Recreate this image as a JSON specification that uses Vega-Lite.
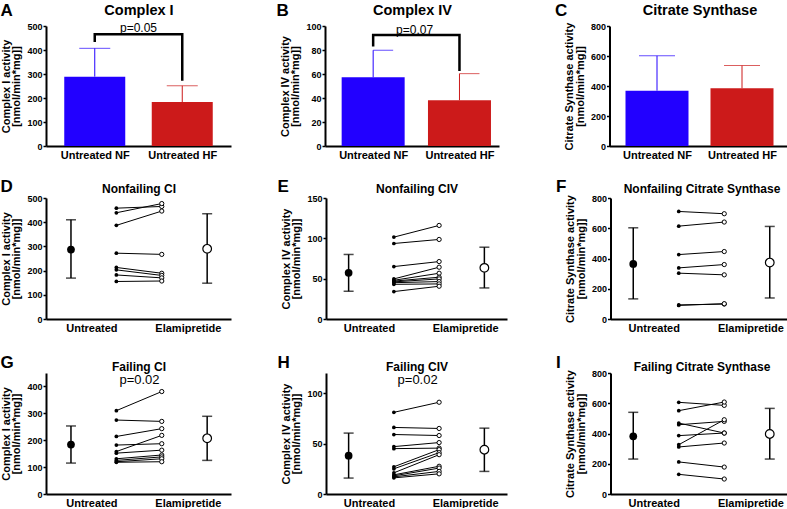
{
"$schema":"https://vega.github.io/schema/vega-lite/v6.json",
"padding":{"left":0,"top":2,"right":0,"bottom":0},
"background":"white",
"config":{
 "view":{"stroke":null},
 "font":"Liberation Sans",
 "title":{"font":"Liberation Sans","color":"black"},
 "axis":{"grid":false,"domainColor":"black","domainWidth":2,"tickColor":"black","tickWidth":1.5,"tickSize":3,"labelColor":"black","labelFontWeight":"bold","labelFontSize":9,"labelFont":"Liberation Sans","labelOverlap":false,"titleFont":"Liberation Sans","titleColor":"black","titleFontWeight":"bold","titleFontSize":11,"titleLineHeight":10.5,"titlePadding":5,"labelPadding":1},
 "axisX":{"ticks":false,"labelFontSize":11,"labelPadding":3,"labelFlush":false,"labelOverlap":false}
},
"datasets":{
 "bars":[
  {"p":"A","g":"NF","x":0.5,"v":289,"e":407},{"p":"A","g":"HF","x":1.5,"v":183,"e":251},
  {"p":"B","g":"NF","x":0.5,"v":57.2,"e":79.8},{"p":"B","g":"HF","x":1.5,"v":38.1,"e":60.3},
  {"p":"C","g":"NF","x":0.5,"v":369,"e":601},{"p":"C","g":"HF","x":1.5,"v":385,"e":536}
 ],
 "brk":[
  {"p":"A","k":1,"x":0.5,"v":433},{"p":"A","k":2,"x":0.5,"v":466},{"p":"A","k":3,"x":1.5,"v":466},{"p":"A","k":4,"x":1.5,"v":272},
  {"p":"B","k":1,"x":0.5,"v":83},{"p":"B","k":2,"x":0.5,"v":92.5},{"p":"B","k":3,"x":1.5,"v":92.5},{"p":"B","k":4,"x":1.5,"v":62.5}
 ],
 "pt":[
  {"p":"A","x":1,"v":493,"t":"p=0.05"},{"p":"B","x":0.98,"v":97,"t":"p=0.07"},
  {"p":"G","x":4.02,"v":423,"t":"p=0.02"},{"p":"H","x":4.05,"v":113,"t":"p=0.02"}
 ],
 "means":[
  {"p":"D","x":1,"m":287,"lo":169,"hi":410},{"p":"D","x":7,"m":290,"lo":148,"hi":435},
  {"p":"E","x":1,"m":57.2,"lo":34.4,"hi":80},{"p":"E","x":7,"m":63.4,"lo":38.5,"hi":89},
  {"p":"F","x":1,"m":364,"lo":133,"hi":603},{"p":"F","x":7,"m":373,"lo":139,"hi":612},
  {"p":"G","x":1,"m":184,"lo":115,"hi":253},{"p":"G","x":7,"m":207,"lo":125,"hi":289},
  {"p":"H","x":1,"m":38,"lo":15.8,"hi":60.4},{"p":"H","x":7,"m":43.9,"lo":22.4,"hi":65.3},
  {"p":"I","x":1,"m":381,"lo":231,"hi":540},{"p":"I","x":7,"m":397,"lo":231,"hi":566}
 ],
 "pairs":[
  {"p":"D","id":1,"x":3,"v":458},{"p":"D","id":1,"x":5,"v":465},
  {"p":"D","id":2,"x":3,"v":439},{"p":"D","id":2,"x":5,"v":477},
  {"p":"D","id":3,"x":3,"v":387},{"p":"D","id":3,"x":5,"v":446},
  {"p":"D","id":4,"x":3,"v":272},{"p":"D","id":4,"x":5,"v":267},
  {"p":"D","id":5,"x":3,"v":213},{"p":"D","id":5,"x":5,"v":189},
  {"p":"D","id":6,"x":3,"v":203},{"p":"D","id":6,"x":5,"v":180},
  {"p":"D","id":7,"x":3,"v":182},{"p":"D","id":7,"x":5,"v":170},
  {"p":"D","id":8,"x":3,"v":155},{"p":"D","id":8,"x":5,"v":157},
  {"p":"E","id":1,"x":3,"v":101.5},{"p":"E","id":1,"x":5,"v":116},
  {"p":"E","id":2,"x":3,"v":93.6},{"p":"E","id":2,"x":5,"v":98.6},
  {"p":"E","id":3,"x":3,"v":65},{"p":"E","id":3,"x":5,"v":71.2},
  {"p":"E","id":4,"x":3,"v":49.7},{"p":"E","id":4,"x":5,"v":64.2},
  {"p":"E","id":5,"x":3,"v":48},{"p":"E","id":5,"x":5,"v":56.7},
  {"p":"E","id":6,"x":3,"v":47},{"p":"E","id":6,"x":5,"v":51.8},
  {"p":"E","id":7,"x":3,"v":46},{"p":"E","id":7,"x":5,"v":49.7},
  {"p":"E","id":8,"x":3,"v":45},{"p":"E","id":8,"x":5,"v":46.4},
  {"p":"E","id":9,"x":3,"v":43},{"p":"E","id":9,"x":5,"v":43.5},
  {"p":"E","id":10,"x":3,"v":34},{"p":"E","id":10,"x":5,"v":40.6},
  {"p":"F","id":1,"x":3,"v":711},{"p":"F","id":1,"x":5,"v":696},
  {"p":"F","id":2,"x":3,"v":614},{"p":"F","id":2,"x":5,"v":641},
  {"p":"F","id":3,"x":3,"v":426},{"p":"F","id":3,"x":5,"v":446},
  {"p":"F","id":4,"x":3,"v":338},{"p":"F","id":4,"x":5,"v":360},
  {"p":"F","id":5,"x":3,"v":303},{"p":"F","id":5,"x":5,"v":292},
  {"p":"F","id":6,"x":3,"v":93},{"p":"F","id":6,"x":5,"v":99},
  {"p":"F","id":7,"x":3,"v":90},{"p":"F","id":7,"x":5,"v":101},
  {"p":"G","id":1,"x":3,"v":310},{"p":"G","id":1,"x":5,"v":381},
  {"p":"G","id":2,"x":3,"v":275},{"p":"G","id":2,"x":5,"v":270},
  {"p":"G","id":3,"x":3,"v":214},{"p":"G","id":3,"x":5,"v":243},
  {"p":"G","id":4,"x":3,"v":182},{"p":"G","id":4,"x":5,"v":187},
  {"p":"G","id":5,"x":3,"v":158},{"p":"G","id":5,"x":5,"v":218},
  {"p":"G","id":6,"x":3,"v":152},{"p":"G","id":6,"x":5,"v":163},
  {"p":"G","id":7,"x":3,"v":131},{"p":"G","id":7,"x":5,"v":145},
  {"p":"G","id":8,"x":3,"v":125},{"p":"G","id":8,"x":5,"v":138},
  {"p":"G","id":9,"x":3,"v":120},{"p":"G","id":9,"x":5,"v":131},
  {"p":"G","id":10,"x":3,"v":118},{"p":"G","id":10,"x":5,"v":120},
  {"p":"H","id":1,"x":3,"v":81},{"p":"H","id":1,"x":5,"v":91},
  {"p":"H","id":2,"x":3,"v":66},{"p":"H","id":2,"x":5,"v":65},
  {"p":"H","id":3,"x":3,"v":59},{"p":"H","id":3,"x":5,"v":58},
  {"p":"H","id":4,"x":3,"v":47},{"p":"H","id":4,"x":5,"v":51},
  {"p":"H","id":5,"x":3,"v":45},{"p":"H","id":5,"x":5,"v":45.5},
  {"p":"H","id":6,"x":3,"v":27},{"p":"H","id":6,"x":5,"v":44},
  {"p":"H","id":7,"x":3,"v":25},{"p":"H","id":7,"x":5,"v":41},
  {"p":"H","id":8,"x":3,"v":21},{"p":"H","id":8,"x":5,"v":39},
  {"p":"H","id":9,"x":3,"v":19},{"p":"H","id":9,"x":5,"v":27.5},
  {"p":"H","id":10,"x":3,"v":18},{"p":"H","id":10,"x":5,"v":25.7},
  {"p":"H","id":11,"x":3,"v":17},{"p":"H","id":11,"x":5,"v":22.4},
  {"p":"H","id":12,"x":3,"v":16},{"p":"H","id":12,"x":5,"v":20},
  {"p":"I","id":1,"x":3,"v":606},{"p":"I","id":1,"x":5,"v":586},
  {"p":"I","id":2,"x":3,"v":551},{"p":"I","id":2,"x":5,"v":608},
  {"p":"I","id":3,"x":3,"v":469},{"p":"I","id":3,"x":5,"v":403},
  {"p":"I","id":4,"x":3,"v":458},{"p":"I","id":4,"x":5,"v":480},
  {"p":"I","id":5,"x":3,"v":386},{"p":"I","id":5,"x":5,"v":403},
  {"p":"I","id":6,"x":3,"v":326},{"p":"I","id":6,"x":5,"v":491},
  {"p":"I","id":7,"x":3,"v":311},{"p":"I","id":7,"x":5,"v":337},
  {"p":"I","id":8,"x":3,"v":212},{"p":"I","id":8,"x":5,"v":178},
  {"p":"I","id":9,"x":3,"v":130},{"p":"I","id":9,"x":5,"v":99}
 ]
},
"spacing":18,
"vconcat":[
 {"spacing":45,"hconcat":[
  {"width":185,"height":120,
   "title":{"text":"A","anchor":"start","frame":"bounds","fontSize":17,"fontWeight":"bold","offset":-18},
   "resolve":{"axis":{"x":"independent"}},
   "layer":[
    {"data":{"name":"bars"},"transform":[{"filter":"datum.p=='A'"}],"mark":{"type":"bar","width":61},
     "encoding":{"x":{"field":"x","type":"quantitative","scale":{"domain":[0,2],"nice":false},"axis":{"values":[0.5,1.5],"labelExpr":"datum.value < 1 ? 'Untreated NF' : 'Untreated HF'","title":null}},
      "y":{"field":"v","type":"quantitative","scale":{"domain":[0,500],"nice":false},"axis":{"values":[0,100,200,300,400,500],"tickCount":20,"title":["Complex I activity","[nmol/min*mg]]"]}},
      "color":{"field":"g","type":"nominal","scale":{"domain":["NF","HF"],"range":["#2200ff","#cc1a1a"]},"legend":null}}},
    {"data":{"name":"bars"},"transform":[{"filter":"datum.p=='A'"}],"mark":{"type":"rule","strokeWidth":1},
     "encoding":{"x":{"field":"x","type":"quantitative","axis":null},"y":{"field":"v","type":"quantitative"},"y2":{"field":"e"},"color":{"field":"g","type":"nominal","legend":null}}},
    {"data":{"name":"bars"},"transform":[{"filter":"datum.p=='A'"}],"mark":{"type":"tick","orient":"horizontal","size":31,"thickness":1},
     "encoding":{"x":{"field":"x","type":"quantitative","axis":null},"y":{"field":"e","type":"quantitative"},"color":{"field":"g","type":"nominal","legend":null}}},
    {"data":{"name":"brk"},"transform":[{"filter":"datum.p=='A'"}],"mark":{"type":"line","color":"black","strokeWidth":2.5},
     "encoding":{"x":{"field":"x","type":"quantitative","axis":{"orient":"top","title":"Complex I","labels":false,"ticks":false,"domain":false,"titleFontSize":14.5,"titlePadding":9}},"y":{"field":"v","type":"quantitative"},"order":{"field":"k","type":"quantitative"}}},
    {"data":{"name":"pt"},"transform":[{"filter":"datum.p=='A'"}],"mark":{"type":"text","fontSize":12,"color":"black"},
     "encoding":{"x":{"field":"x","type":"quantitative","axis":null},"y":{"field":"v","type":"quantitative"},"text":{"field":"t"}}}
   ]},
  {"spacing":55.5,"hconcat":[
   {"width":174,"height":120,
    "title":{"text":"B","anchor":"start","frame":"bounds","fontSize":17,"fontWeight":"bold","offset":-18,"dx":-3},
    "resolve":{"axis":{"x":"independent"}},
    "layer":[
     {"data":{"name":"bars"},"transform":[{"filter":"datum.p=='B'"}],"mark":{"type":"bar","width":63},
      "encoding":{"x":{"field":"x","type":"quantitative","scale":{"domain":[0,1.9],"nice":false},"axis":{"values":[0.5,1.5],"labelExpr":"datum.value < 1 ? 'Untreated NF' : 'Untreated HF'","title":null}},
       "y":{"field":"v","type":"quantitative","scale":{"domain":[0,100],"nice":false},"axis":{"values":[0,20,40,60,80,100],"tickCount":20,"title":["Complex IV activity","[nmol/min*mg]]"]}},
       "color":{"field":"g","type":"nominal","scale":{"domain":["NF","HF"],"range":["#2200ff","#cc1a1a"]},"legend":null}}},
     {"data":{"name":"bars"},"transform":[{"filter":"datum.p=='B'"}],"mark":{"type":"rule","strokeWidth":1},
      "encoding":{"x":{"field":"x","type":"quantitative","axis":null},"y":{"field":"v","type":"quantitative"},"y2":{"field":"e"},"color":{"field":"g","type":"nominal","legend":null}}},
     {"data":{"name":"bars"},"transform":[{"filter":"datum.p=='B'"}],"mark":{"type":"tick","orient":"horizontal","size":20,"thickness":1,"xOffset":10},
      "encoding":{"x":{"field":"x","type":"quantitative","axis":null},"y":{"field":"e","type":"quantitative"},"color":{"field":"g","type":"nominal","legend":null}}},
     {"data":{"name":"brk"},"transform":[{"filter":"datum.p=='B'"}],"mark":{"type":"line","color":"black","strokeWidth":2.5},
      "encoding":{"x":{"field":"x","type":"quantitative","axis":{"orient":"top","title":"Complex IV","labels":false,"ticks":false,"domain":false,"titleFontSize":14.5,"titlePadding":9}},"y":{"field":"v","type":"quantitative"},"order":{"field":"k","type":"quantitative"}}},
     {"data":{"name":"pt"},"transform":[{"filter":"datum.p=='B'"}],"mark":{"type":"text","fontSize":12,"color":"black"},
      "encoding":{"x":{"field":"x","type":"quantitative","axis":null},"y":{"field":"v","type":"quantitative"},"text":{"field":"t"}}}
    ]},
   {"width":180,"height":120,
    "title":{"text":"C","anchor":"start","frame":"bounds","fontSize":17,"fontWeight":"bold","offset":-18,"dx":-9},
    "resolve":{"axis":{"x":"independent"}},
    "layer":[
     {"data":{"name":"bars"},"transform":[{"filter":"datum.p=='C'"}],"mark":{"type":"bar","width":63},
      "encoding":{"x":{"field":"x","type":"quantitative","scale":{"domain":[0,2],"nice":false},"axis":{"values":[0.5,1.5],"labelExpr":"datum.value < 1 ? 'Untreated NF' : 'Untreated HF'","title":null}},
       "y":{"field":"v","type":"quantitative","scale":{"domain":[0,800],"nice":false},"axis":{"values":[0,200,400,600,800],"tickCount":20,"title":["Citrate Synthase activity","[nmol/min*mg]]"]}},
       "color":{"field":"g","type":"nominal","scale":{"domain":["NF","HF"],"range":["#2200ff","#cc1a1a"]},"legend":null}}},
     {"data":{"name":"bars"},"transform":[{"filter":"datum.p=='C'"}],"mark":{"type":"rule","strokeWidth":1},
      "encoding":{"x":{"field":"x","type":"quantitative","axis":{"orient":"top","title":"Citrate Synthase","labels":false,"ticks":false,"domain":false,"titleFontSize":14.5,"titlePadding":9}},"y":{"field":"v","type":"quantitative"},"y2":{"field":"e"},"color":{"field":"g","type":"nominal","legend":null}}},
     {"data":{"name":"bars"},"transform":[{"filter":"datum.p=='C'"}],"mark":{"type":"tick","orient":"horizontal","size":36,"thickness":1},
      "encoding":{"x":{"field":"x","type":"quantitative","axis":null},"y":{"field":"e","type":"quantitative"},"color":{"field":"g","type":"nominal","legend":null}}}
    ]}
  ]}
 ]},
 {"spacing":21,"vconcat":[
 {"spacing":46,"hconcat":[
  {"width":185,"height":121,
   "title":{"text":"D","anchor":"start","frame":"bounds","fontSize":17,"fontWeight":"bold","offset":-14},
   "resolve":{"axis":{"x":"independent"}},
   "layer":[
    {"data":{"name":"pairs"},"transform":[{"filter":"datum.p=='D'"}],"mark":{"type":"line","color":"black","strokeWidth":1},
     "encoding":{"x":{"field":"x","type":"quantitative","scale":{"domain":[-0.1,8.05],"nice":false},"axis":{"values":[1.9,6.15],"labelExpr":"datum.value < 4 ? 'Untreated' : 'Elamipretide'","title":null}},
      "y":{"field":"v","type":"quantitative","scale":{"domain":[0,500],"nice":false},"axis":{"values":[0,100,200,300,400,500],"tickCount":20,"title":["Complex I activity","[nmol/min*mg]]"]}},
      "detail":{"field":"id","type":"nominal"}}},
    {"data":{"name":"pairs"},"transform":[{"filter":"datum.p=='D' && datum.x==3"}],"mark":{"type":"point","filled":true,"color":"black","size":14,"opacity":1},
     "encoding":{"x":{"field":"x","type":"quantitative","axis":null},"y":{"field":"v","type":"quantitative"}}},
    {"data":{"name":"pairs"},"transform":[{"filter":"datum.p=='D' && datum.x==5"}],"mark":{"type":"point","filled":true,"fill":"white","stroke":"black","strokeWidth":1,"size":18,"opacity":1},
     "encoding":{"x":{"field":"x","type":"quantitative","axis":null},"y":{"field":"v","type":"quantitative"}}},
    {"data":{"name":"means"},"transform":[{"filter":"datum.p=='D'"}],"mark":{"type":"rule","color":"black","strokeWidth":1.5},
     "encoding":{"x":{"field":"x","type":"quantitative","axis":{"orient":"top","title":"Nonfailing CI","labels":false,"ticks":false,"domain":false,"titleFontSize":12,"titlePadding":3}},"y":{"field":"lo","type":"quantitative"},"y2":{"field":"hi"}}},
    {"data":{"name":"means"},"transform":[{"filter":"datum.p=='D'"}],"mark":{"type":"tick","orient":"horizontal","size":10,"thickness":1.5,"color":"black"},
     "encoding":{"x":{"field":"x","type":"quantitative","axis":null},"y":{"field":"lo","type":"quantitative"}}},
    {"data":{"name":"means"},"transform":[{"filter":"datum.p=='D'"}],"mark":{"type":"tick","orient":"horizontal","size":10,"thickness":1.5,"color":"black"},
     "encoding":{"x":{"field":"x","type":"quantitative","axis":null},"y":{"field":"hi","type":"quantitative"}}},
    {"data":{"name":"means"},"transform":[{"filter":"datum.p=='D' && datum.x==1"}],"mark":{"type":"point","filled":true,"color":"black","size":60,"opacity":1},
     "encoding":{"x":{"field":"x","type":"quantitative","axis":null},"y":{"field":"m","type":"quantitative"}}},
    {"data":{"name":"means"},"transform":[{"filter":"datum.p=='D' && datum.x==7"}],"mark":{"type":"point","filled":true,"fill":"white","stroke":"black","strokeWidth":1.2,"size":75,"opacity":1},
     "encoding":{"x":{"field":"x","type":"quantitative","axis":null},"y":{"field":"m","type":"quantitative"}}}
   ]},
  {"spacing":48.5,"hconcat":[
   {"width":181,"height":121,
    "title":{"text":"E","anchor":"start","frame":"bounds","fontSize":17,"fontWeight":"bold","offset":-14,"dx":-3},
    "resolve":{"axis":{"x":"independent"}},
    "layer":[
     {"data":{"name":"pairs"},"transform":[{"filter":"datum.p=='E'"}],"mark":{"type":"line","color":"black","strokeWidth":1},
      "encoding":{"x":{"field":"x","type":"quantitative","scale":{"domain":[0,8],"nice":false},"axis":{"values":[1.9,6.15],"labelExpr":"datum.value < 4 ? 'Untreated' : 'Elamipretide'","title":null}},
       "y":{"field":"v","type":"quantitative","scale":{"domain":[0,150],"nice":false},"axis":{"values":[0,50,100,150],"tickCount":20,"title":["Complex IV activity","[nmol/min*mg]]"]}},
       "detail":{"field":"id","type":"nominal"}}},
     {"data":{"name":"pairs"},"transform":[{"filter":"datum.p=='E' && datum.x==3"}],"mark":{"type":"point","filled":true,"color":"black","size":14,"opacity":1},
      "encoding":{"x":{"field":"x","type":"quantitative","axis":null},"y":{"field":"v","type":"quantitative"}}},
     {"data":{"name":"pairs"},"transform":[{"filter":"datum.p=='E' && datum.x==5"}],"mark":{"type":"point","filled":true,"fill":"white","stroke":"black","strokeWidth":1,"size":18,"opacity":1},
      "encoding":{"x":{"field":"x","type":"quantitative","axis":null},"y":{"field":"v","type":"quantitative"}}},
     {"data":{"name":"means"},"transform":[{"filter":"datum.p=='E'"}],"mark":{"type":"rule","color":"black","strokeWidth":1.5},
      "encoding":{"x":{"field":"x","type":"quantitative","axis":{"orient":"top","title":"Nonfailing CIV","labels":false,"ticks":false,"domain":false,"titleFontSize":12,"titlePadding":3}},"y":{"field":"lo","type":"quantitative"},"y2":{"field":"hi"}}},
     {"data":{"name":"means"},"transform":[{"filter":"datum.p=='E'"}],"mark":{"type":"tick","orient":"horizontal","size":10,"thickness":1.5,"color":"black"},
      "encoding":{"x":{"field":"x","type":"quantitative","axis":null},"y":{"field":"lo","type":"quantitative"}}},
     {"data":{"name":"means"},"transform":[{"filter":"datum.p=='E'"}],"mark":{"type":"tick","orient":"horizontal","size":10,"thickness":1.5,"color":"black"},
      "encoding":{"x":{"field":"x","type":"quantitative","axis":null},"y":{"field":"hi","type":"quantitative"}}},
     {"data":{"name":"means"},"transform":[{"filter":"datum.p=='E' && datum.x==1"}],"mark":{"type":"point","filled":true,"color":"black","size":60,"opacity":1},
      "encoding":{"x":{"field":"x","type":"quantitative","axis":null},"y":{"field":"m","type":"quantitative"}}},
     {"data":{"name":"means"},"transform":[{"filter":"datum.p=='E' && datum.x==7"}],"mark":{"type":"point","filled":true,"fill":"white","stroke":"black","strokeWidth":1.2,"size":75,"opacity":1},
      "encoding":{"x":{"field":"x","type":"quantitative","axis":null},"y":{"field":"m","type":"quantitative"}}}
    ]},
   {"width":182,"height":121,
    "title":{"text":"F","anchor":"start","frame":"bounds","fontSize":17,"fontWeight":"bold","offset":-14,"dx":-9},
    "resolve":{"axis":{"x":"independent"}},
    "layer":[
     {"data":{"name":"pairs"},"transform":[{"filter":"datum.p=='F'"}],"mark":{"type":"line","color":"black","strokeWidth":1},
      "encoding":{"x":{"field":"x","type":"quantitative","scale":{"domain":[0,8],"nice":false},"axis":{"values":[1.9,6.15],"labelExpr":"datum.value < 4 ? 'Untreated' : 'Elamipretide'","title":null}},
       "y":{"field":"v","type":"quantitative","scale":{"domain":[0,800],"nice":false},"axis":{"values":[0,200,400,600,800],"tickCount":20,"title":["Citrate Synthase activity","[nmol/min*mg]]"]}},
       "detail":{"field":"id","type":"nominal"}}},
     {"data":{"name":"pairs"},"transform":[{"filter":"datum.p=='F' && datum.x==3"}],"mark":{"type":"point","filled":true,"color":"black","size":14,"opacity":1},
      "encoding":{"x":{"field":"x","type":"quantitative","axis":null},"y":{"field":"v","type":"quantitative"}}},
     {"data":{"name":"pairs"},"transform":[{"filter":"datum.p=='F' && datum.x==5"}],"mark":{"type":"point","filled":true,"fill":"white","stroke":"black","strokeWidth":1,"size":18,"opacity":1},
      "encoding":{"x":{"field":"x","type":"quantitative","axis":null},"y":{"field":"v","type":"quantitative"}}},
     {"data":{"name":"means"},"transform":[{"filter":"datum.p=='F'"}],"mark":{"type":"rule","color":"black","strokeWidth":1.5},
      "encoding":{"x":{"field":"x","type":"quantitative","axis":{"orient":"top","title":"Nonfailing Citrate Synthase","labels":false,"ticks":false,"domain":false,"titleFontSize":12,"titlePadding":3}},"y":{"field":"lo","type":"quantitative"},"y2":{"field":"hi"}}},
     {"data":{"name":"means"},"transform":[{"filter":"datum.p=='F'"}],"mark":{"type":"tick","orient":"horizontal","size":10,"thickness":1.5,"color":"black"},
      "encoding":{"x":{"field":"x","type":"quantitative","axis":null},"y":{"field":"lo","type":"quantitative"}}},
     {"data":{"name":"means"},"transform":[{"filter":"datum.p=='F'"}],"mark":{"type":"tick","orient":"horizontal","size":10,"thickness":1.5,"color":"black"},
      "encoding":{"x":{"field":"x","type":"quantitative","axis":null},"y":{"field":"hi","type":"quantitative"}}},
     {"data":{"name":"means"},"transform":[{"filter":"datum.p=='F' && datum.x==1"}],"mark":{"type":"point","filled":true,"color":"black","size":60,"opacity":1},
      "encoding":{"x":{"field":"x","type":"quantitative","axis":null},"y":{"field":"m","type":"quantitative"}}},
     {"data":{"name":"means"},"transform":[{"filter":"datum.p=='F' && datum.x==7"}],"mark":{"type":"point","filled":true,"fill":"white","stroke":"black","strokeWidth":1.2,"size":75,"opacity":1},
      "encoding":{"x":{"field":"x","type":"quantitative","axis":null},"y":{"field":"m","type":"quantitative"}}}
    ]}
  ]}
 ]},
 {"spacing":46,"hconcat":[
  {"width":185,"height":121,
   "title":{"text":"G","anchor":"start","frame":"bounds","fontSize":17,"fontWeight":"bold","offset":-12},
   "resolve":{"axis":{"x":"independent"}},
   "layer":[
    {"data":{"name":"pairs"},"transform":[{"filter":"datum.p=='G'"}],"mark":{"type":"line","color":"black","strokeWidth":1},
     "encoding":{"x":{"field":"x","type":"quantitative","scale":{"domain":[-0.1,8.05],"nice":false},"axis":{"values":[1.9,6.15],"labelExpr":"datum.value < 4 ? 'Untreated' : 'Elamipretide'","title":null}},
      "y":{"field":"v","type":"quantitative","scale":{"domain":[0,450],"nice":false},"axis":{"values":[0,100,200,300,400],"tickCount":20,"title":["Complex I activity","[nmol/min*mg]]"]}},
      "detail":{"field":"id","type":"nominal"}}},
    {"data":{"name":"pairs"},"transform":[{"filter":"datum.p=='G' && datum.x==3"}],"mark":{"type":"point","filled":true,"color":"black","size":14,"opacity":1},
     "encoding":{"x":{"field":"x","type":"quantitative","axis":null},"y":{"field":"v","type":"quantitative"}}},
    {"data":{"name":"pairs"},"transform":[{"filter":"datum.p=='G' && datum.x==5"}],"mark":{"type":"point","filled":true,"fill":"white","stroke":"black","strokeWidth":1,"size":18,"opacity":1},
     "encoding":{"x":{"field":"x","type":"quantitative","axis":null},"y":{"field":"v","type":"quantitative"}}},
    {"data":{"name":"means"},"transform":[{"filter":"datum.p=='G'"}],"mark":{"type":"rule","color":"black","strokeWidth":1.5},
     "encoding":{"x":{"field":"x","type":"quantitative","axis":{"orient":"top","title":"Failing  CI","labels":false,"ticks":false,"domain":false,"titleFontSize":12,"titlePadding":0}},"y":{"field":"lo","type":"quantitative"},"y2":{"field":"hi"}}},
    {"data":{"name":"means"},"transform":[{"filter":"datum.p=='G'"}],"mark":{"type":"tick","orient":"horizontal","size":10,"thickness":1.5,"color":"black"},
     "encoding":{"x":{"field":"x","type":"quantitative","axis":null},"y":{"field":"lo","type":"quantitative"}}},
    {"data":{"name":"means"},"transform":[{"filter":"datum.p=='G'"}],"mark":{"type":"tick","orient":"horizontal","size":10,"thickness":1.5,"color":"black"},
     "encoding":{"x":{"field":"x","type":"quantitative","axis":null},"y":{"field":"hi","type":"quantitative"}}},
    {"data":{"name":"means"},"transform":[{"filter":"datum.p=='G' && datum.x==1"}],"mark":{"type":"point","filled":true,"color":"black","size":60,"opacity":1},
     "encoding":{"x":{"field":"x","type":"quantitative","axis":null},"y":{"field":"m","type":"quantitative"}}},
    {"data":{"name":"means"},"transform":[{"filter":"datum.p=='G' && datum.x==7"}],"mark":{"type":"point","filled":true,"fill":"white","stroke":"black","strokeWidth":1.2,"size":75,"opacity":1},
     "encoding":{"x":{"field":"x","type":"quantitative","axis":null},"y":{"field":"m","type":"quantitative"}}},
    {"data":{"name":"pt"},"transform":[{"filter":"datum.p=='G'"}],"mark":{"type":"text","fontSize":13,"color":"black"},
     "encoding":{"x":{"field":"x","type":"quantitative","axis":null},"y":{"field":"v","type":"quantitative"},"text":{"field":"t"}}}
   ]},
  {"spacing":48.5,"hconcat":[
   {"width":181,"height":121,
    "title":{"text":"H","anchor":"start","frame":"bounds","fontSize":17,"fontWeight":"bold","offset":-12,"dx":-3},
    "resolve":{"axis":{"x":"independent"}},
    "layer":[
     {"data":{"name":"pairs"},"transform":[{"filter":"datum.p=='H'"}],"mark":{"type":"line","color":"black","strokeWidth":1},
      "encoding":{"x":{"field":"x","type":"quantitative","scale":{"domain":[0,8],"nice":false},"axis":{"values":[1.9,6.15],"labelExpr":"datum.value < 4 ? 'Untreated' : 'Elamipretide'","title":null}},
       "y":{"field":"v","type":"quantitative","scale":{"domain":[0,120],"nice":false},"axis":{"values":[0,50,100],"tickCount":20,"title":["Complex IV activity","[nmol/min*mg]]"]}},
       "detail":{"field":"id","type":"nominal"}}},
     {"data":{"name":"pairs"},"transform":[{"filter":"datum.p=='H' && datum.x==3"}],"mark":{"type":"point","filled":true,"color":"black","size":14,"opacity":1},
      "encoding":{"x":{"field":"x","type":"quantitative","axis":null},"y":{"field":"v","type":"quantitative"}}},
     {"data":{"name":"pairs"},"transform":[{"filter":"datum.p=='H' && datum.x==5"}],"mark":{"type":"point","filled":true,"fill":"white","stroke":"black","strokeWidth":1,"size":18,"opacity":1},
      "encoding":{"x":{"field":"x","type":"quantitative","axis":null},"y":{"field":"v","type":"quantitative"}}},
     {"data":{"name":"means"},"transform":[{"filter":"datum.p=='H'"}],"mark":{"type":"rule","color":"black","strokeWidth":1.5},
      "encoding":{"x":{"field":"x","type":"quantitative","axis":{"orient":"top","title":"Failing CIV","labels":false,"ticks":false,"domain":false,"titleFontSize":12,"titlePadding":0}},"y":{"field":"lo","type":"quantitative"},"y2":{"field":"hi"}}},
     {"data":{"name":"means"},"transform":[{"filter":"datum.p=='H'"}],"mark":{"type":"tick","orient":"horizontal","size":10,"thickness":1.5,"color":"black"},
      "encoding":{"x":{"field":"x","type":"quantitative","axis":null},"y":{"field":"lo","type":"quantitative"}}},
     {"data":{"name":"means"},"transform":[{"filter":"datum.p=='H'"}],"mark":{"type":"tick","orient":"horizontal","size":10,"thickness":1.5,"color":"black"},
      "encoding":{"x":{"field":"x","type":"quantitative","axis":null},"y":{"field":"hi","type":"quantitative"}}},
     {"data":{"name":"means"},"transform":[{"filter":"datum.p=='H' && datum.x==1"}],"mark":{"type":"point","filled":true,"color":"black","size":60,"opacity":1},
      "encoding":{"x":{"field":"x","type":"quantitative","axis":null},"y":{"field":"m","type":"quantitative"}}},
     {"data":{"name":"means"},"transform":[{"filter":"datum.p=='H' && datum.x==7"}],"mark":{"type":"point","filled":true,"fill":"white","stroke":"black","strokeWidth":1.2,"size":75,"opacity":1},
      "encoding":{"x":{"field":"x","type":"quantitative","axis":null},"y":{"field":"m","type":"quantitative"}}},
     {"data":{"name":"pt"},"transform":[{"filter":"datum.p=='H'"}],"mark":{"type":"text","fontSize":13,"color":"black"},
      "encoding":{"x":{"field":"x","type":"quantitative","axis":null},"y":{"field":"v","type":"quantitative"},"text":{"field":"t"}}}
    ]},
   {"width":182,"height":121,
    "title":{"text":"I","anchor":"start","frame":"bounds","fontSize":17,"fontWeight":"bold","offset":-12,"dx":-9},
    "resolve":{"axis":{"x":"independent"}},
    "layer":[
     {"data":{"name":"pairs"},"transform":[{"filter":"datum.p=='I'"}],"mark":{"type":"line","color":"black","strokeWidth":1},
      "encoding":{"x":{"field":"x","type":"quantitative","scale":{"domain":[0,8],"nice":false},"axis":{"values":[1.9,6.15],"labelExpr":"datum.value < 4 ? 'Untreated' : 'Elamipretide'","title":null}},
       "y":{"field":"v","type":"quantitative","scale":{"domain":[0,800],"nice":false},"axis":{"values":[0,200,400,600,800],"tickCount":20,"title":["Citrate Synthase activity","[nmol/min*mg]]"]}},
       "detail":{"field":"id","type":"nominal"}}},
     {"data":{"name":"pairs"},"transform":[{"filter":"datum.p=='I' && datum.x==3"}],"mark":{"type":"point","filled":true,"color":"black","size":14,"opacity":1},
      "encoding":{"x":{"field":"x","type":"quantitative","axis":null},"y":{"field":"v","type":"quantitative"}}},
     {"data":{"name":"pairs"},"transform":[{"filter":"datum.p=='I' && datum.x==5"}],"mark":{"type":"point","filled":true,"fill":"white","stroke":"black","strokeWidth":1,"size":18,"opacity":1},
      "encoding":{"x":{"field":"x","type":"quantitative","axis":null},"y":{"field":"v","type":"quantitative"}}},
     {"data":{"name":"means"},"transform":[{"filter":"datum.p=='I'"}],"mark":{"type":"rule","color":"black","strokeWidth":1.5},
      "encoding":{"x":{"field":"x","type":"quantitative","axis":{"orient":"top","title":"Failing Citrate Synthase","labels":false,"ticks":false,"domain":false,"titleFontSize":12,"titlePadding":0}},"y":{"field":"lo","type":"quantitative"},"y2":{"field":"hi"}}},
     {"data":{"name":"means"},"transform":[{"filter":"datum.p=='I'"}],"mark":{"type":"tick","orient":"horizontal","size":10,"thickness":1.5,"color":"black"},
      "encoding":{"x":{"field":"x","type":"quantitative","axis":null},"y":{"field":"lo","type":"quantitative"}}},
     {"data":{"name":"means"},"transform":[{"filter":"datum.p=='I'"}],"mark":{"type":"tick","orient":"horizontal","size":10,"thickness":1.5,"color":"black"},
      "encoding":{"x":{"field":"x","type":"quantitative","axis":null},"y":{"field":"hi","type":"quantitative"}}},
     {"data":{"name":"means"},"transform":[{"filter":"datum.p=='I' && datum.x==1"}],"mark":{"type":"point","filled":true,"color":"black","size":60,"opacity":1},
      "encoding":{"x":{"field":"x","type":"quantitative","axis":null},"y":{"field":"m","type":"quantitative"}}},
     {"data":{"name":"means"},"transform":[{"filter":"datum.p=='I' && datum.x==7"}],"mark":{"type":"point","filled":true,"fill":"white","stroke":"black","strokeWidth":1.2,"size":75,"opacity":1},
      "encoding":{"x":{"field":"x","type":"quantitative","axis":null},"y":{"field":"m","type":"quantitative"}}}
    ]}
  ]}
 ]}
 ]}
]
}
